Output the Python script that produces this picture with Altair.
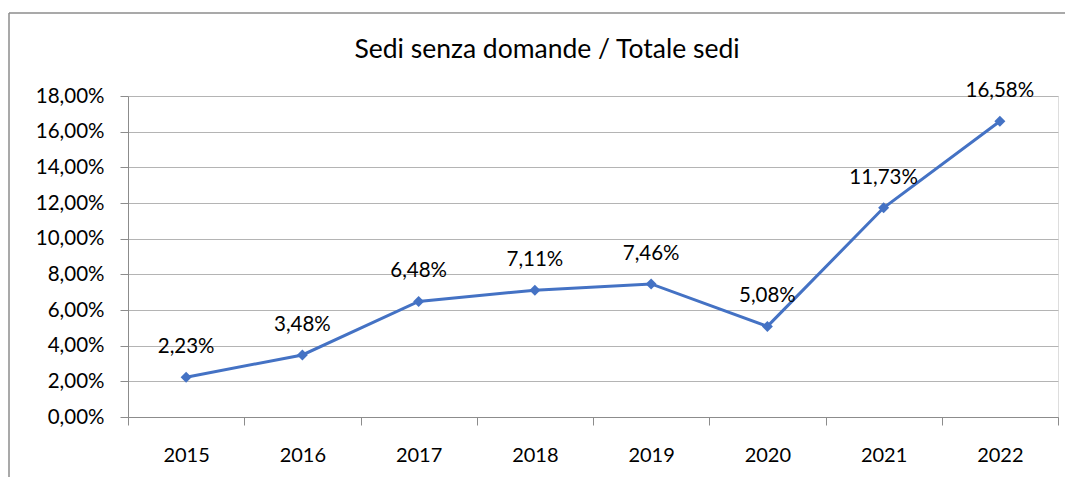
import altair as alt
import pandas as pd

years = ["2015", "2016", "2017", "2018", "2019", "2020", "2021", "2022"]
values = [0.0223, 0.0348, 0.0648, 0.0711, 0.0746, 0.0508, 0.1173, 0.1658]
title_text = "Sedi senza domande / Totale sedi"
y_ticks = [0.0, 0.02, 0.04, 0.06, 0.08, 0.10, 0.12, 0.14, 0.16, 0.18]

df = pd.DataFrame({"year": years, "value": values})

FONT = "Lato"
BLUE = "#4472C4"

x_enc = alt.X("year:O", sort=years, title=None,
              scale=alt.Scale(paddingInner=0, paddingOuter=0),
              axis=alt.Axis(labelAngle=0, tickBand="extent", tickSize=8,
                            labelFontSize=20, labelFont=FONT, labelColor="#000000",
                            labelPadding=30, labelBaseline="middle",
                            domainColor="#8C8C8C", tickColor="#8C8C8C", grid=False))
y_enc = alt.Y("value:Q", title=None,
              scale=alt.Scale(domain=[0, 0.18], nice=False),
              axis=alt.Axis(values=y_ticks, tickSize=8, labelFontSize=20.5, labelFont=FONT,
                            labelColor="#000000", labelPadding=16,
                            labelExpr="replace(format(datum.value, '.2%'), '.', ',')",
                            domainColor="#8C8C8C", tickColor="#8C8C8C",
                            gridColor="#B4B4B4", gridWidth=1))

base = alt.Chart(df)

line = base.mark_line(color=BLUE, strokeWidth=3).encode(x=x_enc, y=y_enc)
points = base.mark_point(shape="diamond", filled=True, color=BLUE, size=120, opacity=1).encode(x=x_enc, y=y_enc)
labels = base.transform_calculate(
    lab="replace(format(datum.value, '.2%'), '.', ',')"
).mark_text(font=FONT, fontSize=20.5, dy=-30, baseline="middle", color="#000000").encode(
    x=x_enc, y=y_enc, text="lab:N")

title = alt.Chart(pd.DataFrame({"t": [title_text]})).mark_text(
    font=FONT, fontSize=26.5, baseline="middle", align="center", color="#000000"
).encode(x=alt.value(419), y=alt.value(-46), text="t:N")

frame_left = alt.Chart(pd.DataFrame({"a": [0]})).mark_rule(color="#8C8C8C", strokeWidth=1.5).encode(
    x=alt.value(-119), y=alt.value(-83), y2=alt.value(420))
frame_top = alt.Chart(pd.DataFrame({"a": [0]})).mark_rule(color="#8C8C8C", strokeWidth=1.5).encode(
    x=alt.value(-119), x2=alt.value(937), y=alt.value(-83))

chart = alt.layer(frame_left, frame_top, title, line, points, labels).properties(
    width=930, height=321,
    autosize=alt.AutoSizeParams(type="none"),
    padding={"left": 120, "top": 88, "right": 7, "bottom": 60},
).configure_view(stroke=None).configure(background="#FFFFFF")

chart.save("out.html", embed_options={"renderer": "svg", "actions": False})
